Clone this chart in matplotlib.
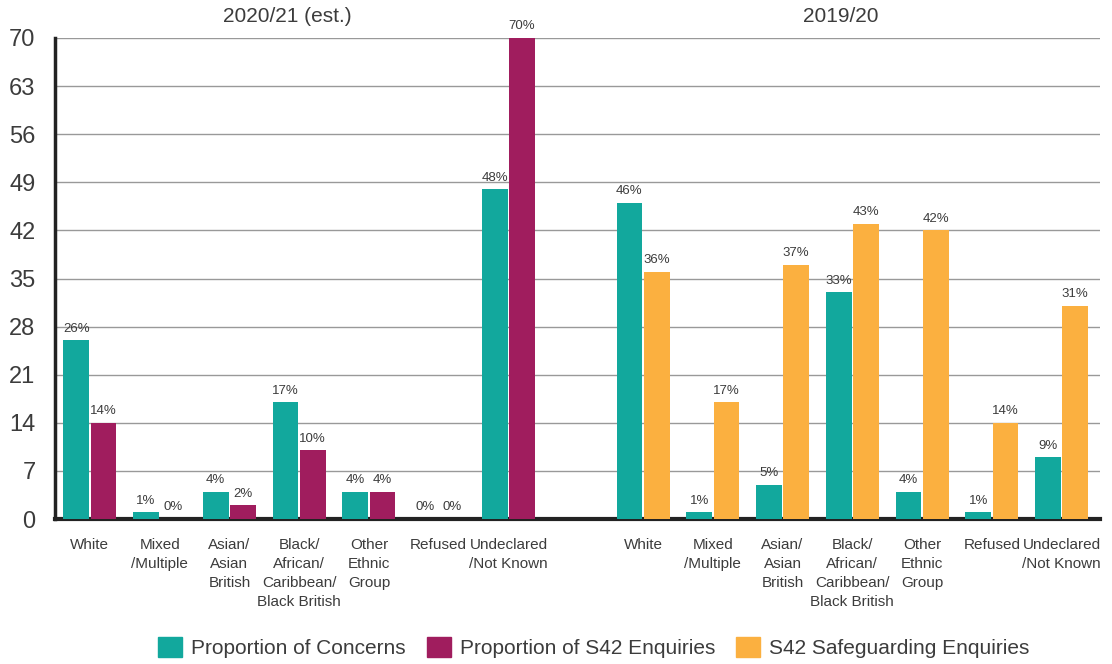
import matplotlib
matplotlib.use("Agg")
import matplotlib.pyplot as plt
import numpy as np
from matplotlib.patches import Patch

plt.rcParams['font.family'] = ['Liberation Sans', 'DejaVu Sans']

categories = ["White", "Mixed\n/Multiple", "Asian/\nAsian\nBritish",
              "Black/\nAfrican/\nCaribbean/\nBlack British", "Other\nEthnic\nGroup",
              "Refused", "Undeclared\n/Not Known"]
group_titles = ["2020/21 (est.)", "2019/20"]
concerns_2021 = [26, 1, 4, 17, 4, 0, 48]
s42_2021 = [14, 0, 2, 10, 4, 0, 70]
concerns_1920 = [46, 1, 5, 33, 4, 1, 9]
safeguard_1920 = [36, 17, 37, 43, 42, 14, 31]
yticks = [0, 7, 14, 21, 28, 35, 42, 49, 56, 63, 70]
legend_labels = ["Proportion of Concerns", "Proportion of S42 Enquiries", "S42 Safeguarding Enquiries"]

TEAL = "#12A89D"
MAROON = "#A01D5E"
ORANGE = "#FBB040"
TXT = "#3c3c3c"

fig = plt.figure(figsize=(11.12, 6.64), dpi=100)
ax = fig.add_axes([55/1112, 145/664, 1045/1112, 481/664])

n = len(categories)
x1 = np.arange(n, dtype=float)
x2 = np.arange(n, dtype=float) + n + 0.93
w = 0.37
off = 0.195

bars = []
bars.append(ax.bar(x1 - off, concerns_2021, w, color=TEAL, zorder=3))
bars.append(ax.bar(x1 + off, s42_2021, w, color=MAROON, zorder=3))
bars.append(ax.bar(x2 - off, concerns_1920, w, color=TEAL, zorder=3))
bars.append(ax.bar(x2 + off, safeguard_1920, w, color=ORANGE, zorder=3))
for b, vals in zip(bars, [concerns_2021, s42_2021, concerns_1920, safeguard_1920]):
    ax.bar_label(b, labels=[f"{v}%" for v in vals], padding=4, fontsize=9.5, color=TXT)

ax.set_ylim(0, 70)
ax.set_xlim(-0.5, x2[-1] + 0.55)
ax.set_yticks(yticks)
ax.set_yticklabels([str(t) for t in yticks], fontsize=17, color=TXT)
ax.yaxis.grid(True, color="#999999", linewidth=1.0, zorder=0)
ax.tick_params(axis='y', length=0, pad=14)
ax.tick_params(axis='x', length=0, pad=14)
ax.set_xticks(np.concatenate([x1, x2]))
ax.set_xticklabels(categories * 2, fontsize=11, color=TXT, linespacing=1.45, va='top')

for s in ['top', 'right']:
    ax.spines[s].set_visible(False)
ax.spines['left'].set_linewidth(2.5)
ax.spines['left'].set_color("#222222")
ax.spines['bottom'].set_linewidth(3)
ax.spines['bottom'].set_color("#222222")

ax.text(x1.mean() - 0.17, 1.025, group_titles[0], transform=ax.get_xaxis_transform(),
        ha='center', va='bottom', fontsize=15, color=TXT)
ax.text(x2.mean() - 0.17, 1.025, group_titles[1], transform=ax.get_xaxis_transform(),
        ha='center', va='bottom', fontsize=15, color=TXT)

handles = [Patch(color=c) for c in [TEAL, MAROON, ORANGE]]
fig.legend(handles, legend_labels, loc='center', bbox_to_anchor=(0.534, 0.025),
           ncol=3, frameon=False, fontsize=15, handlelength=1.15, handleheight=1.15,
           columnspacing=1.0, handletextpad=0.45, labelcolor=TXT)

fig.savefig("out.png", dpi=100)
